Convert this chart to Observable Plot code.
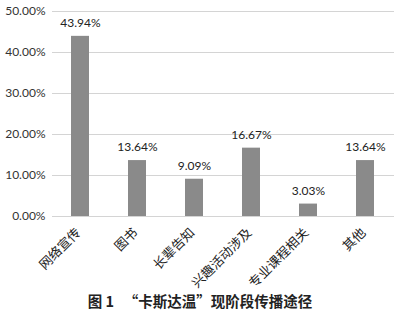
<!DOCTYPE html>
<html><head><meta charset="utf-8">
<script src="https://cdn.jsdelivr.net/npm/d3@7"></script>
<script src="https://cdn.jsdelivr.net/npm/@observablehq/plot@0.6"></script>
<style>
body{margin:0;background:#fff;}
#cap{font-family:"Noto Sans CJK SC",sans-serif;font-weight:bold;font-size:14.5px;line-height:20px;color:#222;text-align:center;width:400px;margin-top:0px;white-space:pre;}
</style></head><body>
<div id="chart"></div>
<div id="cap">图 1   “卡斯达温”现阶段传播途径</div>
<script>
const categories = ["网络宣传","图书","长辈告知","兴趣活动涉及","专业课程相关","其他"];
const values = [43.94,13.64,9.09,16.67,3.03,13.64];
const yTicks = [0,10,20,30,40,50];
const data = categories.map((c,i)=>({c, v: values[i]}));
const chart = Plot.plot({
  width: 400, height: 291,
  marginTop: 11, marginBottom: 75, marginLeft: 52, marginRight: 6,
  style: {fontFamily: "Lato, 'Noto Sans CJK SC', sans-serif", fontSize: "12px", color: "#333", background: "#fff"},
  x: {domain: categories, paddingInner: 0.68, paddingOuter: 0.34, label: null},
  y: {domain: [0,50], label: null},
  marks: [
    Plot.gridY(yTicks, {stroke: "#d4d4d4", strokeOpacity: 1}),
    Plot.barY(data, {x: "c", y: "v", fill: "#8a8a8a"}),
    Plot.text(data, {x: "c", y: "v", text: d => d.v.toFixed(2) + "%", dy: -13, fontSize: 12, fill: "#222"}),
    Plot.axisX({tickSize: 0, tickRotate: -45, tickPadding: 14, dx: -2, fontSize: 13, fill: "#222", fontFamily: "'Noto Sans CJK SC', sans-serif"}),
    Plot.axisY({ticks: yTicks, tickSize: 0, tickPadding: 7, tickFormat: d => d.toFixed(2) + "%", fontSize: 12, fill: "#333"})
  ]
});
document.getElementById("chart").appendChild(chart);
</script>
</body></html>
